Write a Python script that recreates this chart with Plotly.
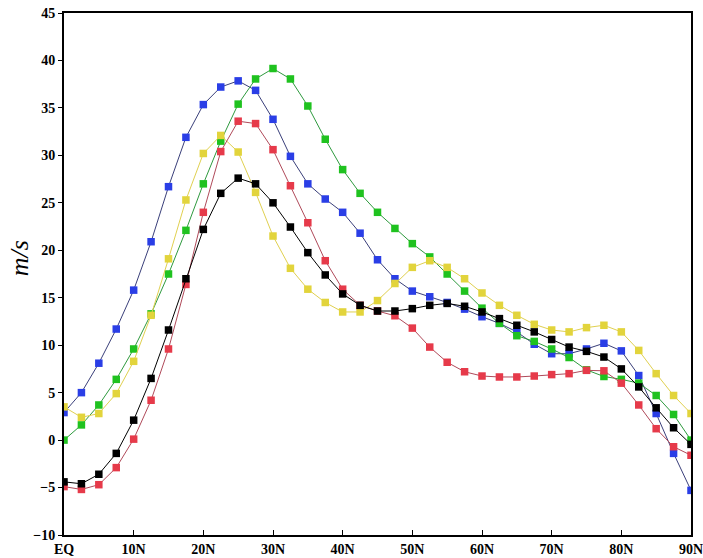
import plotly.graph_objects as go

lat = [i * 2.5 for i in range(37)]

blue = [2.9, 5.0, 8.1, 11.7, 15.8, 20.9, 26.7, 31.9, 35.35, 37.2, 37.85, 36.85, 33.8, 29.9, 27.0, 25.4, 24.0, 21.8,
        19.0, 17.0, 15.7, 15.1, 14.5, 13.8, 13.0, 12.3, 11.4, 10.1, 9.1, 9.1, 9.6, 10.2, 9.4, 6.8, 2.8, -1.4, -5.3]
green = [0.0, 1.6, 3.7, 6.4, 9.6, 13.3, 17.5, 22.1, 27.0, 31.5, 35.4, 38.05, 39.15, 38.05, 35.2, 31.7, 28.5, 26.0,
         24.0, 22.3, 20.7, 19.3, 17.5, 15.7, 13.9, 12.3, 11.0, 10.4, 9.6, 8.7, 7.4, 6.7, 6.4, 6.0, 4.7, 2.7, 0.0]
yellow = [3.5, 2.4, 2.8, 4.9, 8.3, 13.15, 19.1, 25.3, 30.2, 32.1, 30.35, 26.1, 21.5, 18.1, 15.9, 14.5, 13.5, 13.5,
          14.7, 16.5, 18.2, 18.9, 18.2, 17.0, 15.5, 14.2, 13.15, 12.2, 11.6, 11.4, 11.85, 12.1, 11.4, 9.45, 7.0, 4.7, 2.8]
red = [-4.9, -5.2, -4.7, -2.9, 0.1, 4.2, 9.6, 16.4, 24.0, 30.4, 33.6, 33.35, 30.6, 26.8, 22.9, 18.9, 15.9, 14.2,
       13.6, 13.1, 11.8, 9.8, 8.2, 7.2, 6.75, 6.65, 6.65, 6.75, 6.9, 7.0, 7.35, 7.3, 6.0, 3.7, 1.2, -0.7, -1.6]
black = [-4.4, -4.6, -3.6, -1.4, 2.1, 6.5, 11.6, 17.0, 22.2, 26.0, 27.6, 27.0, 25.0, 22.45, 19.75, 17.4, 15.4, 14.2,
         13.6, 13.6, 13.85, 14.2, 14.4, 14.1, 13.5, 12.8, 12.1, 11.4, 10.6, 9.8, 9.35, 8.75, 7.5, 5.6, 3.4, 1.3, -0.45]

x_tickvals = [0, 10, 20, 30, 40, 50, 60, 70, 80, 90]
x_ticktext = ["EQ", "10N", "20N", "30N", "40N", "50N", "60N", "70N", "80N", "90N"]
y_tickvals = [-10, -5, 0, 5, 10, 15, 20, 25, 30, 35, 40, 45]

series = [
    ("blue", blue, "#2a3ee6", "#3a3f7a"),
    ("green", green, "#1fc21f", "#2e9a3e"),
    ("yellow", yellow, "#e2d43c", "#e0d050"),
    ("red", red, "#e63a4a", "#b04a5a"),
    ("black", black, "#000000", "#000000"),
]

fig = go.Figure()
for name, vals, col, lcol in series:
    fig.add_trace(go.Scatter(
        x=lat, y=vals, mode="lines+markers", name=name,
        line=dict(color=lcol, width=1),
        marker=dict(symbol="square", size=7.5, color=col),
    ))

font_family = "Liberation Serif"
fig.update_layout(
    width=703, height=558,
    margin=dict(l=64, r=12, t=13, b=23),
    paper_bgcolor="white", plot_bgcolor="white",
    showlegend=False,
    xaxis=dict(
        range=[0, 90], tickvals=x_tickvals, ticktext=x_ticktext,
        ticks="inside", ticklen=5, tickwidth=1, tickcolor="black",
        showgrid=False, zeroline=False, automargin=False,
        ticklabeloverflow="allow",
        showline=True, linecolor="black", linewidth=2, mirror=True,
        tickfont=dict(family=font_family, size=14, color="black", weight="bold"),
    ),
    yaxis=dict(
        range=[-10, 45], tickvals=y_tickvals,
        ticks="outside", ticklen=4, tickwidth=1, tickcolor="black",
        showgrid=False, zeroline=False, automargin=False,
        ticklabeloverflow="allow",
        showline=True, linecolor="black", linewidth=2, mirror=True,
        tickfont=dict(family=font_family, size=14, color="black", weight="bold"),
    ),
    annotations=[dict(
        text="<i>m/s</i>", xref="paper", yref="paper",
        x=-0.072, y=0.53, showarrow=False, textangle=-90,
        font=dict(family=font_family, size=26, color="black"),
        xanchor="center", yanchor="middle",
    )],
)

fig.write_html("out.html", config={"displayModeBar": False},
               post_script="document.body.style.margin='0';document.body.style.overflow='hidden';")
